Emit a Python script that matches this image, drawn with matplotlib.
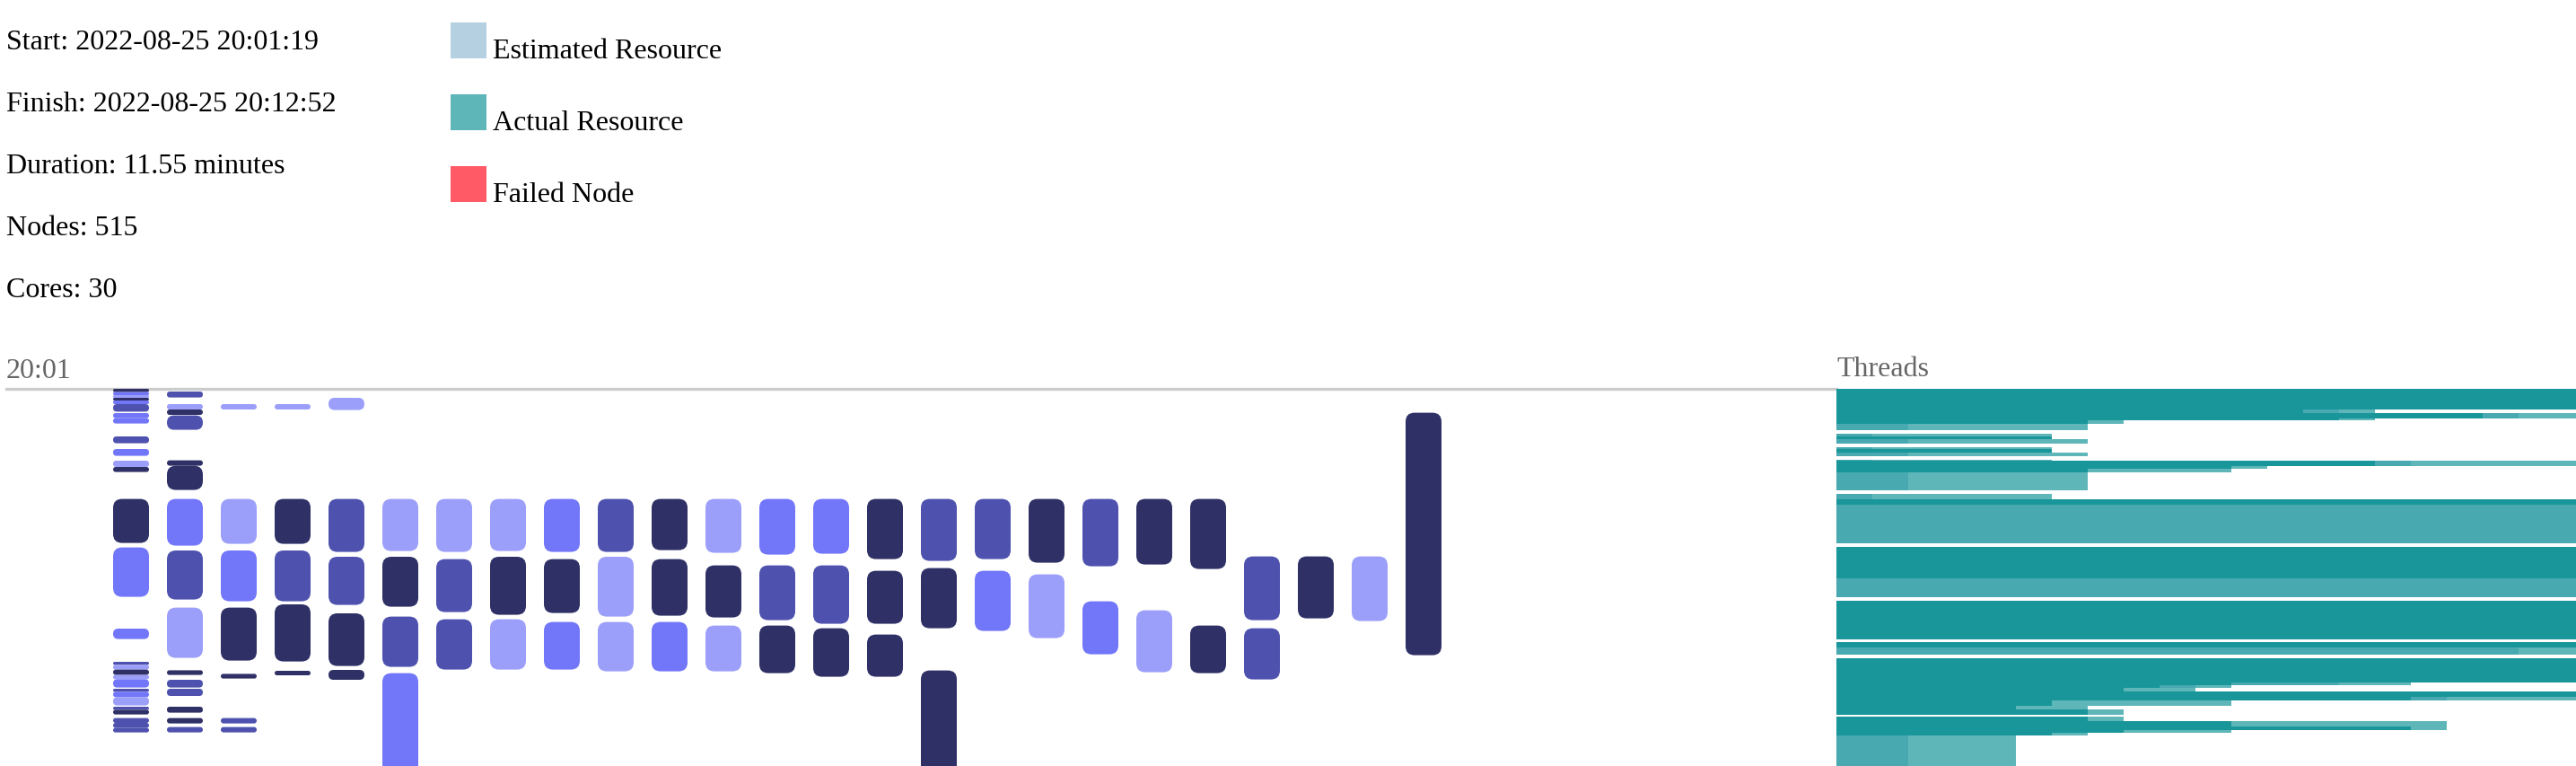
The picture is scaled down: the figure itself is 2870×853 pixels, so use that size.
import matplotlib
matplotlib.use('Agg')
import matplotlib.pyplot as plt
from matplotlib.patches import FancyBboxPatch, Rectangle

plt.rcParams['font.family'] = ['Liberation Serif', 'DejaVu Serif']

W, H = 2870, 854
FS = 23.04  # 32 px text

# header text
info_lines = ['Start: 2022-08-25 20:01:19', 'Finish: 2022-08-25 20:12:52',
              'Duration: 11.55 minutes', 'Nodes: 515', 'Cores: 30']
legend_labels = ['Estimated Resource', 'Actual Resource', 'Failed Node']
legend_colors = ['#b4d0e1', '#5fb6b9', '#ff5a66']
time_label = '20:01'
threads_label = 'Threads'

# nodes per lane: start / end in seconds after 20:01:19, shade code
# D = dark, M = medium, B = bright, L = light
node_start = [
    [0, 1.8, 3.5, 5, 6.5, 8.5, 13.5, 16.3, 26.5, 33.5, 40, 43.5, 61.3, 88.3, 133.5,
     152, 153.7, 156.3, 159.3, 161.7, 167, 168.7, 171.7, 177, 178.7, 183.3, 186, 188.8],
    [1.5, 8.5, 11.5, 14.8, 39.8, 42.8, 61.3, 90, 121.8, 156.7, 162, 167, 177, 183.3, 188.3],
    [8.5, 61.3, 90, 121.8, 158.7, 183.3, 188.3],
    [8.5, 61.3, 90, 120, 157],
    [5, 61.3, 93.5, 125, 156.5],
    [61.3, 93.5, 126.8, 158.3],
    [61.3, 94.8, 128.3],
    [61.3, 93.5, 128.3],
    [61.3, 94.8, 129.8],
    [61.3, 93.5, 129.8],
    [61.3, 94.8, 129.8],
    [61.3, 98.3, 131.8],
    [61.3, 98.3, 131.8],
    [61.3, 98.3, 133.3],
    [61.3, 101.3, 136.8],
    [61.3, 99.8, 156.8],
    [61.3, 101.3],
    [61.3, 103.3],
    [61.3, 118.3],
    [61.3, 123.3],
    [61.3, 131.8],
    [93.3, 133.3],
    [93.3],
    [93.3],
    [13.3],
]
node_end = [
    [1.8, 3.5, 5, 6.5, 8.5, 12.7, 16.3, 19.3, 30.3, 37.3, 43.5, 46.3, 85.8, 115.8, 139.3,
     153.7, 156.3, 159.3, 161.7, 166.3, 168.7, 171.7, 176.3, 178.7, 181.3, 186, 188.8, 191.3],
    [4.8, 11.5, 14.5, 22.8, 42.8, 56.3, 87.3, 117.3, 149.8, 159.3, 166.3, 171, 180.3, 186.3, 191.3],
    [11.5, 86.3, 118.3, 151.3, 161.3, 186.3, 191.3],
    [11.5, 86.3, 118.3, 151.8, 159.5],
    [11.8, 90.8, 120.3, 154.3, 162],
    [90.3, 121.3, 154.8, 260],
    [90.8, 124.3, 156.3],
    [90.3, 125.8, 156.3],
    [90.8, 124.8, 156.3],
    [90.8, 126.8, 157.3],
    [89.8, 126.3, 157.3],
    [91.3, 127.3, 157.3],
    [92.3, 128.8, 158.3],
    [91.8, 130.8, 160.3],
    [94.8, 130.8, 160.3],
    [95.8, 133.3, 250],
    [94.8, 134.8],
    [96.8, 138.8],
    [98.8, 147.8],
    [97.8, 157.8],
    [100.3, 158.3],
    [128.8, 161.8],
    [127.8],
    [129.3],
    [148.3],
]
node_shade = [
    'DBLDBMBBMBLDDBBMLDLBMBLMDMMM',
    'MLDMDDBMLDMMDDM',
    'LLBDDMM',
    'LDMDD',
    'LMMDD',
    'LDMB',
    'LMM',
    'LDL',
    'BDB',
    'MLL',
    'DDB',
    'LDL',
    'BMD',
    'BMD',
    'DDD',
    'MDD',
    'MB',
    'DL',
    'MB',
    'DL',
    'DD',
    'MM',
    'D',
    'L',
    'D',
]
shade_colors = {'D': '#2f3066', 'M': '#4e52ae', 'B': '#7276f8', 'L': '#9c9ff9'}

# thread usage rows: time span (s) and extent in threads of each shade
thread_start = [0, 11.3, 13.5, 16.3, 17.7, 19.3, 25, 26.5, 28, 32.5, 33.5, 35.5, 39.5, 40,
                43, 44.5, 46.5, 58.5, 61.5, 64.5, 88, 105.5, 118, 141, 144, 150, 163.5,
                165, 166.3, 168.5, 171.3, 173.3, 176.3, 178.5, 182.5, 185, 188, 190, 191.3, 193]
thread_end = [11.3, 13.5, 16.3, 17.7, 19.3, 23, 26.5, 28, 30.5, 33.5, 35.5, 37.5, 40, 43,
              44.5, 46.5, 56.3, 61.5, 64.5, 86, 105.5, 116, 139.5, 144, 148, 163.5, 165,
              166.3, 168.5, 171.3, 173.3, 176.3, 178.5, 181.7, 185, 188, 190, 191.3, 193, 212]
thread_dark = [30, 13, 18, 14, 7, 0, 0, 6, 0, 0, 6, 0, 0, 15,
               11, 7, 0, 0, 30, 0, 30, 0, 30, 30, 0, 30, 11,
               9, 8, 30, 16, 6, 5, 7, 7, 11, 16, 8, 6, 0]
thread_mid = [0, 14, 19, 0, 0, 2, 1, 0, 2, 1, 0, 2, 1, 16,
              0, 0, 2, 1, 0, 30, 0, 30, 0, 0, 19, 0, 14,
              10, 0, 0, 17, 0, 0, 0, 0, 0, 0, 0, 0, 2]
thread_light = [0, 15, 30, 15, 8, 7, 6, 0, 7, 6, 0, 7, 6, 30,
                12, 11, 7, 6, 0, 0, 0, 0, 0, 0, 30, 0, 16,
                11, 10, 0, 30, 11, 7, 8, 8, 17, 17, 11, 7, 5]
thread_colors = {'dark': '#18969a', 'mid': '#48a9b1', 'light': '#5fb6b9'}

fig = plt.figure(figsize=(W / 100, H / 100), dpi=100)

# info text and legend
for i, line in enumerate(info_lines):
    fig.text(7 / W, 1 - (55 + 69 * i) / H, line, fontsize=FS, va='baseline', ha='left')
for i, (lab, col) in enumerate(zip(legend_labels, legend_colors)):
    top = 26 + 80 * i
    fig.patches.append(Rectangle((502 / W, 1 - (top + 40) / H), 40 / W, 40 / H,
                                 transform=fig.transFigure, color=col, lw=0))
    fig.text(549 / W, 1 - (top + 39) / H, lab, fontsize=FS, va='baseline', ha='left')
fig.text(7 / W, 1 - 421 / H, time_label, fontsize=FS, color='#666666', va='baseline')
fig.text(2046 / W, 1 - 419 / H, threads_label, fontsize=FS, color='#666666', va='baseline')

# node timeline: lanes 60 px apart, 2 px per second
t_max = 210
ax = fig.add_axes([7 / W, 0, (2046 - 7) / W, 420 / H])
ax.set_xlim(-139 / 60, 1900 / 60)
ax.set_ylim(t_max, 0)
ax.set_xticks([])
ax.set_yticks([])
for s in ['left', 'right', 'bottom']:
    ax.spines[s].set_visible(False)
ax.spines['top'].set_color('#cccccc')
ax.spines['top'].set_linewidth(2.4)

bar_w = 40 / 60
for lane, (starts, ends, shades) in enumerate(zip(node_start, node_end, node_shade)):
    for t0, t1, sh in zip(starts, ends, shades):
        h = t1 - t0
        r_px = min(10, h)  # corner radius in px (h seconds * 2 px / 2)
        box = FancyBboxPatch((lane - bar_w / 2, t0), bar_w, h,
                             boxstyle=f'round,pad=0,rounding_size={r_px / 60}',
                             mutation_aspect=30, facecolor=shade_colors[sh],
                             edgecolor='none', zorder=3)
        ax.add_patch(box)

# thread panel: 40 px per thread
ax2 = fig.add_axes([2046 / W, 0, 824 / W, 420 / H])
ax2.set_xlim(0, 824 / 40)
ax2.set_ylim(t_max, 0)
ax2.axis('off')
heights = [e - s for s, e in zip(thread_start, thread_end)]
for key, ext in [('light', thread_light), ('mid', thread_mid), ('dark', thread_dark)]:
    ax2.barh(thread_start, ext, height=heights, left=0, align='edge',
             color=thread_colors[key], linewidth=0)

fig.savefig('out.png', dpi=100)
